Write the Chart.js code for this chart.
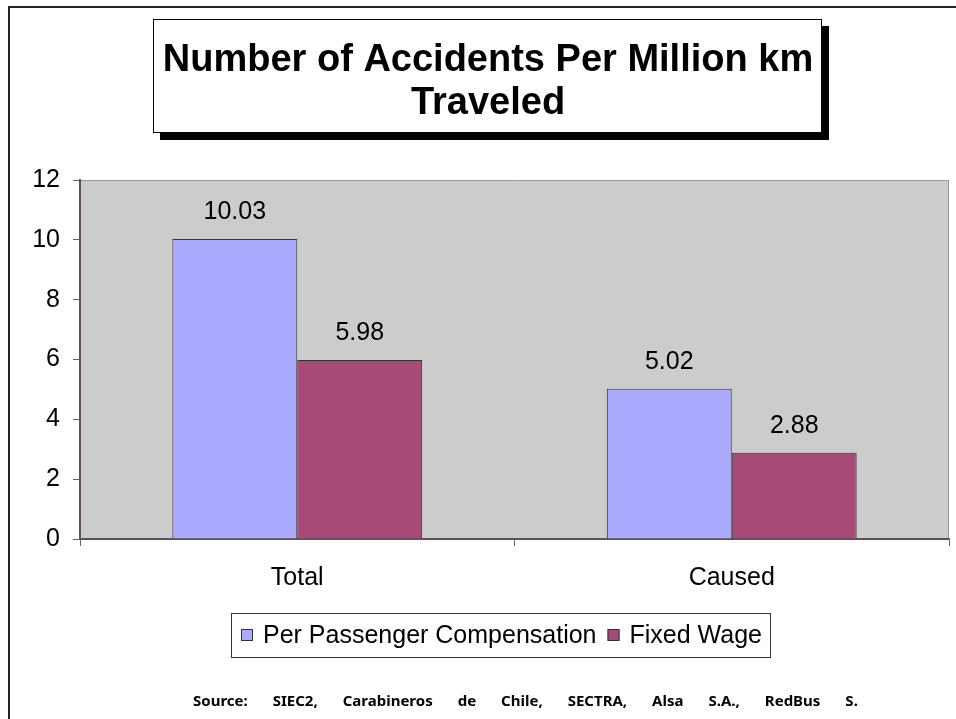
<!DOCTYPE html>
<html>
<head>
<meta charset="utf-8">
<script src="https://cdn.jsdelivr.net/npm/chart.js@4"></script>
<style>
  html, body { margin: 0; padding: 0; background: #fff; }
  canvas { display: block; }
</style>
</head>
<body>
<canvas id="chart" width="956" height="719"></canvas>
<script>
// chart data
const categories = ['Total', 'Caused'];
const seriesNames = ['Per Passenger Compensation', 'Fixed Wage'];
const perPassenger = [10.03, 5.02];
const fixedWage = [5.98, 2.88];
const yMin = 0, yMax = 12, yStep = 2;
const titleLines = ['Number of Accidents Per Million km', 'Traveled'];
const sourceWords = ['Source:', 'SIEC2,', 'Carabineros', 'de', 'Chile,', 'SECTRA,', 'Alsa', 'S.A.,', 'RedBus', 'S.A.'];

const colors = ['#AAAAFF', '#A84A78'];
const FONT = '"Liberation Sans", Arial, sans-serif';

// white page, outer frame, title box, gray plot area
const backdrop = {
  id: 'backdrop',
  beforeDraw(chart) {
    const ctx = chart.ctx;
    const a = chart.chartArea;
    ctx.save();
    ctx.fillStyle = '#fff';
    ctx.fillRect(0, 0, chart.width, chart.height);

    ctx.strokeStyle = '#222';
    ctx.lineWidth = 2;
    ctx.beginPath();
    ctx.moveTo(9, chart.height);
    ctx.lineTo(9, 7);
    ctx.lineTo(chart.width, 7);
    ctx.stroke();

    // title box with shadow
    ctx.fillStyle = '#000';
    ctx.fillRect(160, 26, 669, 114);
    ctx.fillStyle = '#fff';
    ctx.fillRect(153, 19, 669, 114);
    ctx.strokeStyle = '#000';
    ctx.lineWidth = 1;
    ctx.strokeRect(153.5, 19.5, 668, 113);
    ctx.fillStyle = '#000';
    ctx.font = 'bold 38px ' + FONT;
    ctx.textAlign = 'center';
    ctx.textBaseline = 'alphabetic';
    ctx.fillText(titleLines[0], 488, 71);
    ctx.fillText(titleLines[1], 488, 114);

    // plot area
    ctx.fillStyle = '#CCCCCC';
    ctx.fillRect(a.left, a.top, a.right - a.left, a.bottom - a.top);
    ctx.strokeStyle = '#999';
    ctx.beginPath();
    ctx.moveTo(a.left, a.top + 0.5);
    ctx.lineTo(a.right - 0.5, a.top + 0.5);
    ctx.lineTo(a.right - 0.5, a.bottom);
    ctx.stroke();
    ctx.restore();
  }
};

// value labels above each bar
const valueLabels = {
  id: 'valueLabels',
  afterDatasetsDraw(chart) {
    const ctx = chart.ctx;
    ctx.save();
    ctx.fillStyle = '#000';
    ctx.font = '25px ' + FONT;
    ctx.textAlign = 'center';
    ctx.textBaseline = 'middle';
    chart.data.datasets.forEach((ds, i) => {
      chart.getDatasetMeta(i).data.forEach((bar, j) => {
        ctx.fillText(ds.data[j].toFixed(2), bar.x, bar.y - 27);
      });
    });
    ctx.restore();
  }
};

// boxed legend and source line
const legendAndSource = {
  id: 'legendAndSource',
  afterDraw(chart) {
    const ctx = chart.ctx;
    ctx.save();
    ctx.font = '25px ' + FONT;
    const sq = 12, padL = 10, gapSq = 10, gapItem = 11, padR = 8;
    let w = padL;
    seriesNames.forEach((n, i) => {
      w += sq + gapSq + ctx.measureText(n).width;
      if (i < seriesNames.length - 1) w += gapItem;
    });
    w += padR;
    const cx = 500, top = 613, h = 44;
    let x = Math.round(cx - w / 2);
    ctx.fillStyle = '#fff';
    ctx.fillRect(x, top, w, h);
    ctx.strokeStyle = '#333';
    ctx.lineWidth = 1;
    ctx.strokeRect(x + 0.5, top + 0.5, w, h);
    x += padL;
    const mid = top + h / 2;
    ctx.textAlign = 'left';
    ctx.textBaseline = 'middle';
    seriesNames.forEach((n, i) => {
      ctx.fillStyle = colors[i];
      ctx.fillRect(x, mid - sq / 2, sq, sq);
      ctx.strokeStyle = '#333';
      ctx.strokeRect(x + 0.5, mid - sq / 2 + 0.5, sq - 1, sq - 1);
      x += sq + gapSq;
      ctx.fillStyle = '#000';
      ctx.fillText(n, x, mid + 1);
      x += ctx.measureText(n).width + gapItem;
    });

    // source, spread out and clipped on the right
    ctx.beginPath();
    ctx.rect(0, 680, 858, 39);
    ctx.clip();
    ctx.font = 'bold 15px "Noto Sans", sans-serif';
    ctx.fillStyle = '#000';
    let sx = 193;
    sourceWords.forEach(wd => {
      ctx.fillText(wd, sx, 702);
      sx += ctx.measureText(wd).width + 25;
    });
    ctx.restore();
  }
};

new Chart(document.getElementById('chart'), {
  type: 'bar',
  data: {
    labels: categories,
    datasets: [
      { label: seriesNames[0], data: perPassenger, backgroundColor: colors[0], borderColor: '#333', borderWidth: 1 },
      { label: seriesNames[1], data: fixedWage, backgroundColor: colors[1], borderColor: '#333', borderWidth: 1 }
    ]
  },
  options: {
    responsive: false,
    animation: false,
    events: [],
    categoryPercentage: 0.575,
    barPercentage: 1,
    layout: { padding: { top: 180, right: 7, left: 0, bottom: 0 } },
    plugins: {
      legend: { display: false },
      title: { display: false },
      tooltip: { enabled: false }
    },
    scales: {
      x: {
        grid: { offset: true, drawOnChartArea: false, drawTicks: true, tickLength: 7, color: '#666' },
        border: { color: '#5c5258', width: 2 },
        ticks: { color: '#000', font: { family: FONT, size: 25 }, padding: 17 },
        afterFit(scale) { scale.height = 180; }
      },
      y: {
        min: yMin,
        max: yMax,
        grid: { drawOnChartArea: false, drawTicks: true, tickLength: 7, color: '#666' },
        border: { color: '#5c5258', width: 2 },
        ticks: { stepSize: yStep, color: '#000', font: { family: FONT, size: 25 }, padding: 13 },
        afterFit(scale) { scale.width = 80; }
      }
    }
  },
  plugins: [backdrop, valueLabels, legendAndSource]
});
</script>
</body>
</html>
